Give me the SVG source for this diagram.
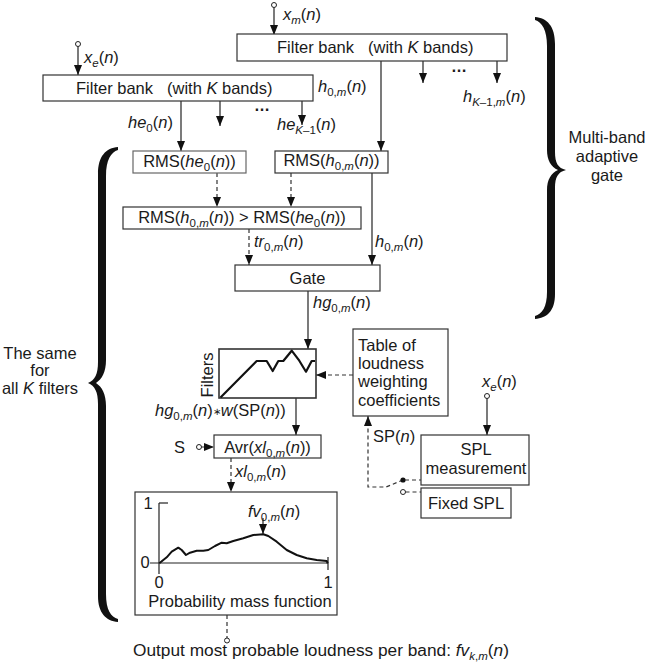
<svg xmlns="http://www.w3.org/2000/svg" width="646" height="664" viewBox="0 0 646 664">
<defs>
<style>
text{font-family:"Liberation Sans",Arial,sans-serif;font-size:16.5px;fill:#1a1a1a}
.i{font-style:italic}
.s{font-size:11.5px}
.box{fill:#fff;stroke:#333;stroke-width:1.2}
.ln{fill:none;stroke:#222;stroke-width:1.2}
.dl{fill:none;stroke:#333;stroke-width:1.2;stroke-dasharray:4 3}
.oc{fill:#fff;stroke:#222;stroke-width:1}
.br{fill:#111}
.dots{font-size:16px;font-weight:bold}
</style>
<marker id="ah" viewBox="0 0 10 8" refX="10" refY="4" markerWidth="10" markerHeight="8" markerUnits="userSpaceOnUse" orient="auto"><path d="M0,0 L10,4 L0,8 z" fill="#111"/></marker>
</defs>
<rect width="646" height="664" fill="#fff"/>

<g id="connectors">
<circle class="oc" cx="274" cy="5" r="2.5"/>
<line class="ln" x1="274" y1="7.5" x2="274" y2="35" marker-end="url(#ah)"/>
<circle class="oc" cx="78" cy="44" r="2.5"/>
<line class="ln" x1="78" y1="46.5" x2="78" y2="75" marker-end="url(#ah)"/>
<line class="ln" x1="381" y1="61" x2="381" y2="151" marker-end="url(#ah)"/>
<line class="ln" x1="423" y1="61" x2="423" y2="83" marker-end="url(#ah)"/>
<line class="ln" x1="497" y1="61" x2="497" y2="83" marker-end="url(#ah)"/>
<line class="ln" x1="181" y1="101" x2="181" y2="151" marker-end="url(#ah)"/>
<line class="ln" x1="220" y1="101" x2="220" y2="126" marker-end="url(#ah)"/>
<line class="ln" x1="302" y1="101" x2="302" y2="125" marker-end="url(#ah)"/>
<line class="dl" x1="217" y1="173" x2="217" y2="207" marker-end="url(#ah)"/>
<line class="dl" x1="291" y1="173" x2="291" y2="207" marker-end="url(#ah)"/>
<line class="ln" x1="372" y1="173" x2="372" y2="265" marker-end="url(#ah)"/>
<line class="dl" x1="249" y1="229" x2="249" y2="265" marker-end="url(#ah)"/>
<line class="ln" x1="308" y1="291" x2="308" y2="349" marker-end="url(#ah)"/>
<line class="dl" x1="353" y1="375" x2="316" y2="375" marker-end="url(#ah)"/>
<line class="ln" x1="296" y1="398" x2="296" y2="435" marker-end="url(#ah)"/>
<circle class="oc" cx="199" cy="447" r="2.5"/>
<line class="dl" x1="201.5" y1="447" x2="214" y2="447" marker-end="url(#ah)"/>
<line class="dl" x1="231" y1="458" x2="231" y2="492" marker-end="url(#ah)"/>
<line class="dl" x1="227" y1="615" x2="227" y2="638"/>
<circle class="oc" cx="227" cy="640.5" r="2.5"/>
<circle class="oc" cx="487" cy="396" r="2.5"/>
<line class="ln" x1="487" y1="398.5" x2="487" y2="435" marker-end="url(#ah)"/>
<path class="dl" d="M403,480 L386,487 L368,487 L368,416" marker-end="url(#ah)"/>
<circle cx="403" cy="480" r="2.6" fill="#111"/>
<line class="dl" x1="405" y1="480" x2="421" y2="480"/>
<circle class="oc" cx="403" cy="492" r="2.5"/>
<line class="dl" x1="405.5" y1="492" x2="421" y2="492"/>
</g>

<g id="filterbank-m">
<rect class="box" x="237" y="34" width="270" height="27"/>
<text x="277" y="53">Filter bank</text>
<text x="368" y="53">(with <tspan class="i">K</tspan> bands)</text>
<text x="283" y="20"><tspan class="i">x</tspan><tspan class="i s" dy="4">m</tspan><tspan dy="-4">(</tspan><tspan class="i">n</tspan>)</text>
<text class="dots" x="451" y="72">…</text>
<text x="463" y="102"><tspan class="i">h</tspan><tspan class="i s" dy="4">K</tspan><tspan class="s">–1,</tspan><tspan class="i s">m</tspan><tspan dy="-4">(</tspan><tspan class="i">n</tspan>)</text>
</g>

<g id="filterbank-e">
<rect class="box" x="43" y="75" width="270" height="26"/>
<text x="76" y="94">Filter bank</text>
<text x="167" y="94">(with <tspan class="i">K</tspan> bands)</text>
<text x="84" y="63"><tspan class="i">x</tspan><tspan class="i s" dy="4">e</tspan><tspan dy="-4">(</tspan><tspan class="i">n</tspan>)</text>
<text x="318" y="92"><tspan class="i">h</tspan><tspan class="s" dy="4">0,</tspan><tspan class="i s">m</tspan><tspan dy="-4">(</tspan><tspan class="i">n</tspan>)</text>
<text x="128" y="128"><tspan class="i">he</tspan><tspan class="s" dy="4">0</tspan><tspan dy="-4">(</tspan><tspan class="i">n</tspan>)</text>
<text class="dots" x="254" y="111">…</text>
<text x="277" y="130"><tspan class="i">he</tspan><tspan class="i s" dy="4">K</tspan><tspan class="s">–1</tspan><tspan dy="-4">(</tspan><tspan class="i">n</tspan>)</text>
</g>

<g id="rms-e">
<rect class="box" x="133" y="151" width="113" height="22" style="stroke:#666"/>
<text x="189.5" y="167" text-anchor="middle">RMS(<tspan class="i">he</tspan><tspan class="s" dy="4">0</tspan><tspan dy="-4">(</tspan><tspan class="i">n</tspan>))</text>
</g>

<g id="rms-m">
<rect class="box" x="275" y="151" width="113" height="22"/>
<text x="331.5" y="166" text-anchor="middle">RMS(<tspan class="i">h</tspan><tspan class="s" dy="4">0,</tspan><tspan class="i s">m</tspan><tspan dy="-4">(</tspan><tspan class="i">n</tspan>))</text>
</g>

<g id="compare">
<rect class="box" x="123" y="207" width="238" height="22"/>
<text x="242" y="223" text-anchor="middle">RMS(<tspan class="i">h</tspan><tspan class="s" dy="4">0,</tspan><tspan class="i s">m</tspan><tspan dy="-4">(</tspan><tspan class="i">n</tspan>)) &gt; RMS(<tspan class="i">he</tspan><tspan class="s" dy="4">0</tspan><tspan dy="-4">(</tspan><tspan class="i">n</tspan>))</text>
<text x="254" y="247"><tspan class="i">tr</tspan><tspan class="s" dy="4">0,</tspan><tspan class="i s">m</tspan><tspan dy="-4">(</tspan><tspan class="i">n</tspan>)</text>
<text x="375" y="247"><tspan class="i">h</tspan><tspan class="s" dy="4">0,</tspan><tspan class="i s">m</tspan><tspan dy="-4">(</tspan><tspan class="i">n</tspan>)</text>
</g>

<g id="gate">
<rect class="box" x="235" y="265" width="145" height="26"/>
<text x="307.5" y="284" text-anchor="middle">Gate</text>
<text x="313" y="308"><tspan class="i">hg</tspan><tspan class="s" dy="4">0,</tspan><tspan class="i s">m</tspan><tspan dy="-4">(</tspan><tspan class="i">n</tspan>)</text>
</g>

<g id="filters">
<rect class="box" x="219" y="349" width="97" height="49" style="stroke-width:1.6"/>
<polyline fill="none" stroke="#111" stroke-width="2.2" stroke-linejoin="round" points="220.5,397.5 256.7,361 266.7,361 272.7,371 278.3,361 283.3,361 291.7,350.7 299.3,360.7 306,371.7 311.7,361 315,361"/>
<text x="0" y="0" transform="translate(213,375) rotate(-90)" text-anchor="middle">Filters</text>
<text x="155" y="416"><tspan class="i">hg</tspan><tspan class="s" dy="4">0,</tspan><tspan class="i s">m</tspan><tspan dy="-4">(</tspan><tspan class="i">n</tspan>)<tspan style="font-size:10px" dy="-1">∗</tspan><tspan class="i" dy="1">w</tspan>(SP(<tspan class="i">n</tspan>))</text>
</g>

<g id="table">
<rect class="box" x="353" y="329" width="95" height="87"/>
<text x="358" y="351">Table of</text>
<text x="358" y="369">loudness</text>
<text x="358" y="387">weighting</text>
<text x="358" y="406">coefficients</text>
<text x="373" y="442">SP(<tspan class="i">n</tspan>)</text>
</g>

<g id="spl">
<rect class="box" x="421" y="435" width="108" height="50"/>
<text x="476" y="455" text-anchor="middle">SPL</text>
<text x="476" y="474" text-anchor="middle">measurement</text>
<text x="482" y="387"><tspan class="i">x</tspan><tspan class="i s" dy="4">e</tspan><tspan dy="-4">(</tspan><tspan class="i">n</tspan>)</text>
</g>

<g id="fixed-spl">
<rect class="box" x="421" y="488" width="90" height="30"/>
<text x="466" y="509" text-anchor="middle">Fixed SPL</text>
</g>

<g id="avr">
<rect class="box" x="214" y="435" width="107" height="23"/>
<text x="267.5" y="453" text-anchor="middle">Avr(<tspan class="i">xl</tspan><tspan class="s" dy="4">0,</tspan><tspan class="i s">m</tspan><tspan dy="-4">(</tspan><tspan class="i">n</tspan>))</text>
<text x="174" y="453">S</text>
<text x="235" y="477"><tspan class="i">xl</tspan><tspan class="s" dy="4">0,</tspan><tspan class="i s">m</tspan><tspan dy="-4">(</tspan><tspan class="i">n</tspan>)</text>
</g>

<g id="pmf">
<rect class="box" x="135" y="492" width="202" height="123"/>
<line class="ln" x1="159" y1="503" x2="159" y2="574"/>
<line class="ln" x1="159" y1="503" x2="168" y2="503"/>
<line class="ln" x1="150" y1="563" x2="328" y2="563"/>
<line class="ln" x1="328" y1="557" x2="328" y2="570"/>
<text x="148" y="509" text-anchor="middle">1</text>
<text x="145" y="568" text-anchor="middle">0</text>
<text x="159" y="588" text-anchor="middle">0</text>
<text x="328" y="588" text-anchor="middle">1</text>
<polyline fill="none" stroke="#111" stroke-width="2" stroke-linejoin="round" points="159.3,563.3 166.7,557.3 171.7,551.7 178.3,547.7 181.7,550 186,555 190,552.7 196.7,550.7 203.3,550.7 208.3,550 215,546 221.7,542.7 226.7,543.3 233.3,541 243.3,538.3 253.3,535 263.3,534.3 268.3,536 276.7,541.7 286.7,550 296.7,555 306.7,558.3 316.7,560 326.7,561 327.7,563.3"/>
<line class="ln" x1="263" y1="518" x2="263" y2="534" marker-end="url(#ah)"/>
<text x="248" y="517"><tspan class="i">fv</tspan><tspan class="s" dy="4">0,</tspan><tspan class="i s">m</tspan><tspan dy="-4">(</tspan><tspan class="i">n</tspan>)</text>
<text x="240" y="607" text-anchor="middle">Probability mass function</text>
</g>

<g id="output">
<text x="133" y="656" style="font-size:17.3px">Output most probable loudness per band: <tspan class="i">fv</tspan><tspan class="i s" dy="3.5">k</tspan><tspan class="s">,</tspan><tspan class="i s">m</tspan><tspan dy="-3.5">(</tspan><tspan class="i">n</tspan>)</text>
</g>

<g id="brace-left">
<path class="br" d="M118,147 C106,148 98,156 98,174 L98,362 C98,374 95,380 88,383 C95,386 98,392 98,404 L98,596 C98,613 106,621 118,622 L118,619 C111,617 106,610 106,594 L106,406 C106,394 102,387 96,383 C102,379 106,372 106,360 L106,176 C106,160 111,152 118,150 Z"/>
<text x="40" y="359" text-anchor="middle">The same</text>
<text x="40" y="376" text-anchor="middle">for</text>
<text x="40" y="394" text-anchor="middle">all <tspan class="i">K</tspan> filters</text>
</g>

<g id="brace-right">
<path class="br" d="M535,17 C547,18 555,26 555,44 L555,152 C555,163 558,168 566,170 C558,172 555,177 555,188 L555,294 C555,311 547,318 535,319 L535,316 C542,314 547,307 547,292 L547,190 C547,180 551,173 558,170 C551,167 547,160 547,150 L547,46 C547,30 542,22 535,20 Z"/>
<text x="607" y="143" text-anchor="middle">Multi-band</text>
<text x="607" y="162" text-anchor="middle">adaptive</text>
<text x="607" y="181" text-anchor="middle">gate</text>
</g>
</svg>
